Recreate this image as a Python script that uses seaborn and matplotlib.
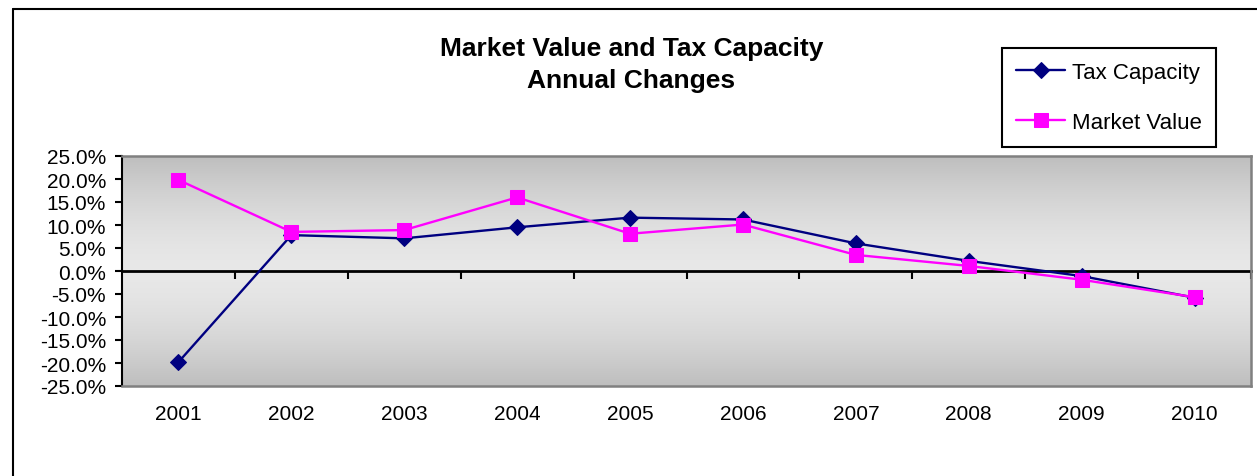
import numpy as np
import pandas as pd
import matplotlib
matplotlib.use("Agg")
import matplotlib.pyplot as plt
from matplotlib.lines import Line2D
from matplotlib.ticker import FuncFormatter, FixedLocator
import seaborn as sns

# ---- data ----
years = [2001, 2002, 2003, 2004, 2005, 2006, 2007, 2008, 2009, 2010]
tax_capacity = [-19.8, 7.8, 7.1, 9.5, 11.6, 11.2, 6.0, 2.2, -1.1, -5.8]
market_value = [19.8, 8.5, 8.9, 16.0, 8.1, 10.1, 3.5, 1.1, -1.9, -5.7]
series_names = ["Tax Capacity", "Market Value"]
series_colors = ["#000080", "#FF00FF"]
title_text = "Market Value and Tax Capacity\nAnnual Changes"
y_ticks = [-25, -20, -15, -10, -5, 0, 5, 10, 15, 20, 25]

sns.set_theme(style="white")
plt.rcParams["font.family"] = ["Liberation Sans", "DejaVu Sans"]
plt.rcParams["text.color"] = "black"

W, H = 1257, 477
fig = plt.figure(figsize=(W / 100, H / 100), dpi=100)
fig.patch.set_facecolor("white")

ax = fig.add_axes([122 / W, 1 - 387 / H, (1251 - 122) / W, (387 - 157) / H])

# gradient background of plot area
t = np.linspace(0, 1, 256)
prof = 1 - np.abs(2 * t - 1) ** 1.6
shade = 0.745 + 0.165 * prof
grad = np.dstack([shade, shade, shade]).reshape(256, 1, 3)
ax.imshow(grad, extent=[0, 1, 0, 1], transform=ax.transAxes, aspect="auto",
          zorder=0, interpolation="bilinear")

df_tc = pd.DataFrame({"Year": years, "Change": tax_capacity})
df_mv = pd.DataFrame({"Year": years, "Change": market_value})

sns.lineplot(data=df_tc, x="Year", y="Change", ax=ax, color=series_colors[0],
             marker="D", markersize=8.5, markeredgecolor=series_colors[0],
             linewidth=1.7, label=series_names[0], zorder=3)
sns.lineplot(data=df_mv, x="Year", y="Change", ax=ax, color=series_colors[1],
             marker="s", markersize=10.5, markeredgecolor=series_colors[1],
             linewidth=1.7, label=series_names[1], zorder=4)

ax.set_xlim(years[0] - 0.5, years[-1] + 0.5)
ax.set_ylim(y_ticks[0], y_ticks[-1])
ax.set_xlabel("")
ax.set_ylabel("")

ax.set_yticks(y_ticks)
ax.yaxis.set_major_formatter(FuncFormatter(lambda v, p: f"{v:.1f}%"))
ax.set_xticks(years)
ax.set_xticklabels([str(y) for y in years])
ax.tick_params(axis="x", length=0, pad=13, labelsize=15, colors="black")
ax.tick_params(axis="y", direction="out", length=5, width=1.5, pad=6.5,
               labelsize=15, colors="black", left=True)

for side in ["top", "right", "bottom"]:
    ax.spines[side].set_color("#808080")
    ax.spines[side].set_linewidth(1.8)
    ax.spines[side].set_visible(True)
ax.spines["left"].set_color("black")
ax.spines["left"].set_linewidth(1.5)
ax.grid(False)

# zero line with category-boundary tick marks
sec = ax.secondary_xaxis(0.5)
sec.xaxis.set_major_locator(FixedLocator([y + 0.5 for y in years]))
sec.set_xticklabels([])
sec.tick_params(axis="x", direction="in", length=6, width=1.5, color="black")
for s in sec.spines.values():
    s.set_linewidth(2)
    s.set_color("black")

# legend
leg = ax.legend(loc="upper left", bbox_to_anchor=(1002 / W, 1 - 48.5 / H),
                bbox_transform=fig.transFigure, borderaxespad=0,
                fontsize=16, frameon=True, fancybox=False, handlelength=2.2,
                handletextpad=0.3, labelspacing=1.3, borderpad=0.65,
                numpoints=1)
leg.get_frame().set_edgecolor("black")
leg.get_frame().set_linewidth(1.5)
leg.get_frame().set_facecolor("white")
leg.get_frame().set_alpha(1)
for txt in leg.get_texts():
    txt.set_color("black")

# title
fig.text(631.5 / W, 1 - 65 / H, title_text, ha="center", va="center",
         fontsize=19, fontweight="bold", linespacing=1.45, color="black")

# outer chart border (top and left edges visible)
fig.add_artist(Line2D([13 / W, 1], [1 - 10 / H, 1 - 10 / H],
                      transform=fig.transFigure, color="black", lw=1.5))
fig.add_artist(Line2D([13 / W, 13 / W], [0, 1 - 10 / H],
                      transform=fig.transFigure, color="black", lw=1.5))

fig.savefig("out.png", dpi=100)
